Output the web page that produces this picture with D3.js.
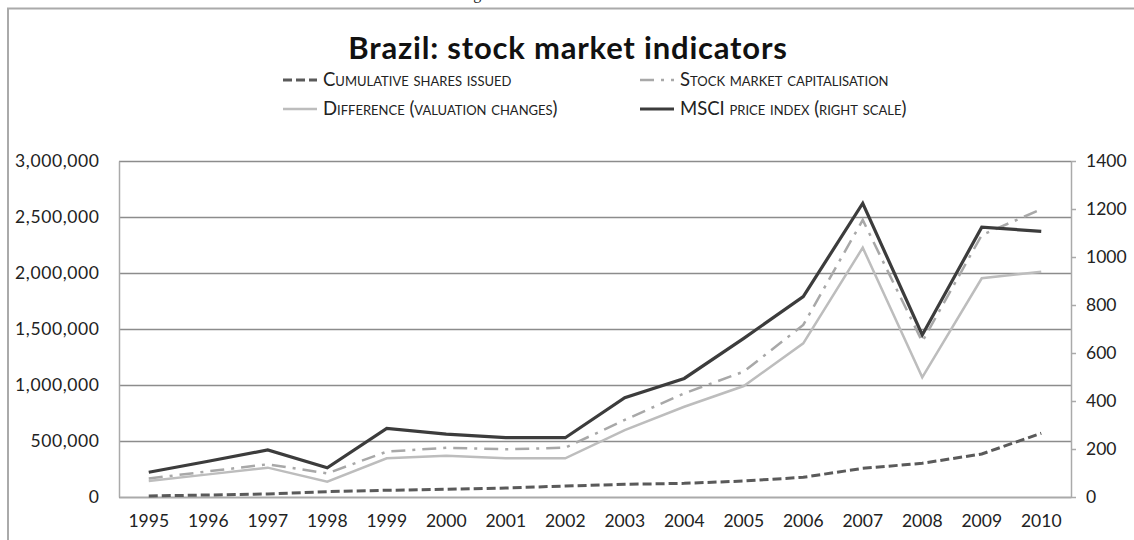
<!DOCTYPE html>
<html>
<head>
<meta charset="utf-8">
<script src="https://cdn.jsdelivr.net/npm/d3@7"></script>
<style>
  body { margin: 0; background: #fff; }
  text { font-family: Lato, "Open Sans", sans-serif; fill: #222; }
</style>
</head>
<body>
<svg width="1134" height="540"></svg>
<script>
// Data
const years = ['1995', '1996', '1997', '1998', '1999', '2000', '2001', '2002',
  '2003', '2004', '2005', '2006', '2007', '2008', '2009', '2010']
const sharesIssued = [9000, 18000, 27000, 48000, 60000, 69000, 80000, 98000,
  113000, 122000, 143000, 176000, 256000, 301000, 384000, 569000]
const marketCap = [165000, 229000, 292000, 211000, 405000, 440000, 426000, 440000,
  688000, 926000, 1119000, 1536000, 2473000, 1387000, 2339000, 2569000]
const difference = [143000, 202000, 262000, 137000, 345000, 369000, 345000, 345000,
  598000, 806000, 991000, 1372000, 2226000, 1069000, 1953000, 2012000]
const msci = [103, 149, 196, 122, 286, 262, 247, 247,
  414, 494, 661, 835, 1224, 675, 1124, 1107]
const leftTicks = [0, 500000, 1000000, 1500000, 2000000, 2500000, 3000000]
const rightTicks = [0, 200, 400, 600, 800, 1000, 1200, 1400]

const svg = d3.select('svg')

// Plot area
const plotLeft = 119
const plotRight = 1071
const plotTop = 161
const plotBottom = 497

// Caption of the page above, mostly cut off by the top edge
svg.append('text')
  .attr('x', 567)
  .attr('y', -1)
  .attr('text-anchor', 'middle')
  .style('font-family', '"Liberation Serif", serif')
  .style('font-size', '16px')
  .text('Figure 4: Stock market indicators')

// Frame around the figure
svg.append('rect')
  .attr('x', 8)
  .attr('y', 8.5)
  .attr('width', 1140)
  .attr('height', 540)
  .attr('fill', 'none')
  .attr('stroke', '#aaa')
  .attr('stroke-width', 2)

// Title
svg.append('text')
  .attr('x', 568)
  .attr('y', 59)
  .attr('text-anchor', 'middle')
  .style('font-size', '31px')
  .style('letter-spacing', '0.8px')
  .style('font-weight', 'bold')
  .style('fill', '#111')
  .text('Brazil: stock market indicators')

// Scales
const xScale = d3.scaleBand()
  .domain(years)
  .range([plotLeft, plotRight])

const yLeft = d3.scaleLinear()
  .domain([0, 3000000])
  .range([plotBottom, plotTop])

const yRight = d3.scaleLinear()
  .domain([0, 1400])
  .range([plotBottom, plotTop])

const labelFont = g => g.selectAll('text')
  .style('font-size', '17.5px')
  .style('font-family', 'Lato, sans-serif')
  .style('fill', '#222')

// Horizontal gridlines
svg.append('g')
  .attr('transform', `translate(${plotLeft}, 0)`)
  .call(d3.axisLeft(yLeft)
    .tickValues(leftTicks)
    .tickSize(-(plotRight - plotLeft))
    .tickFormat(''))
  .call(g => g.select('.domain').remove())
  .call(g => g.selectAll('line').attr('stroke', '#8c8c8c').attr('stroke-width', 1.5))

// Left axis labels
svg.append('g')
  .attr('transform', `translate(${plotLeft}, 0)`)
  .call(d3.axisLeft(yLeft)
    .tickValues(leftTicks)
    .tickSize(0)
    .tickPadding(19.5)
    .tickFormat(d3.format(',')))
  .call(g => g.select('.domain').attr('stroke', '#aaa').attr('stroke-width', 1.5))
  .call(labelFont)
  .call(g => g.selectAll('text').style('letter-spacing', '0.6px'))

// Right axis
svg.append('g')
  .attr('transform', `translate(${plotRight}, 0)`)
  .call(d3.axisRight(yRight)
    .tickValues(rightTicks)
    .tickSize(5)
    .tickSizeOuter(0)
    .tickPadding(10)
    .tickFormat(d3.format('d')))
  .call(g => g.select('.domain').attr('stroke', '#aaa').attr('stroke-width', 1.5))
  .call(g => g.selectAll('line').attr('stroke', '#aaa').attr('stroke-width', 1.5))
  .call(labelFont)

// Bottom axis
svg.append('g')
  .attr('transform', `translate(0, ${plotBottom})`)
  .call(d3.axisBottom(xScale)
    .tickSize(0)
    .tickPadding(18))
  .call(g => g.select('.domain').attr('stroke', '#aaa').attr('stroke-width', 1.5))
  .call(labelFont)

// Series
const xPos = (d, i) => xScale(years[i]) + xScale.bandwidth() / 2
const leftLine = d3.line().x(xPos).y(d => yLeft(d))
const rightLine = d3.line().x(xPos).y(d => yRight(d))

const series = [
  { values: difference, line: leftLine, color: '#bdbdbd', width: 2.5, dash: null },
  { values: marketCap, line: leftLine, color: '#a8a8a8', width: 2.5, dash: '14,7,3,7' },
  { values: sharesIssued, line: leftLine, color: '#5a5a5a', width: 3, dash: '9,4' },
  { values: msci, line: rightLine, color: '#3c3c3c', width: 3.2, dash: null }
]

series.forEach(s => {
  svg.append('path')
    .datum(s.values)
    .attr('fill', 'none')
    .attr('stroke', s.color)
    .attr('stroke-width', s.width)
    .attr('stroke-dasharray', s.dash)
    .attr('stroke-linejoin', 'miter')
    .attr('d', s.line)
})

// Legend
const legend = [
  { label: 'Cumulative shares issued', x: 283, y: 86, color: '#5a5a5a', width: 3, dash: '9,4' },
  { label: 'Stock market capitalisation', x: 640, y: 86, color: '#a8a8a8', width: 2.5, dash: '14,7,3,7' },
  { label: 'Difference (valuation changes)', x: 283, y: 115, color: '#bdbdbd', width: 2.5, dash: null },
  { label: 'MSCI price index (right scale)', x: 640, y: 115, color: '#3c3c3c', width: 3, dash: null }
]

const items = svg.selectAll('.legend')
  .data(legend)
  .enter()
  .append('g')
  .attr('class', 'legend')
  .attr('transform', d => `translate(${d.x}, ${d.y})`)

items.append('line')
  .attr('x1', 0)
  .attr('x2', 34)
  .attr('y1', -6)
  .attr('y2', -6)
  .attr('stroke', d => d.color)
  .attr('stroke-width', d => d.width)
  .attr('stroke-dasharray', d => d.dash)

items.append('text')
  .attr('x', 40)
  .attr('y', 0)
  .style('font-size', '18.5px')
  .style('font-variant', 'small-caps')
  .text(d => d.label)
</script>
</body>
</html>
